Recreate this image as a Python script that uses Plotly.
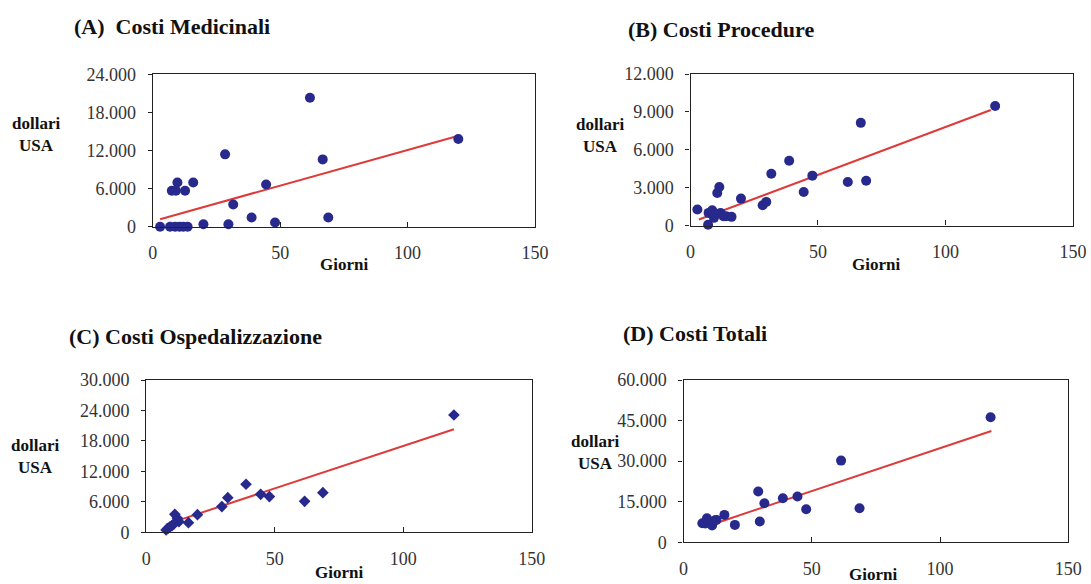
import plotly.graph_objects as go

W, H = 1091, 584

# ---------------- data ----------------
x_ticks = [0, 50, 100, 150]

# (A) Costi Medicinali
giorni_A = [2.9, 6.8, 8.8, 10.5, 12.0, 13.7, 19.9, 29.7, 48.0, 38.8, 68.9, 31.6,
            7.5, 9.1, 12.7, 9.7, 15.9, 44.5, 28.4, 66.7, 61.7, 119.9]
costi_A = [0, 0, 0, 0, 0, 0, 390, 390, 660, 1450, 1450, 3500,
           5650, 5650, 5650, 6970, 6970, 6650, 11390, 10600, 20310, 13800]
trend_A_x = [2.9, 118.6]
trend_A_y = [1180, 14160]
y_ticks_A = [0, 6000, 12000, 18000, 24000]

# (B) Costi Procedure
giorni_B = [2.7, 6.9, 7.1, 8.5, 9.2, 9.8, 10.5, 11.3, 11.8, 12.9, 14.0, 16.1, 19.8,
            28.3, 29.7, 31.7, 38.7, 44.4, 47.8, 61.7, 66.8, 68.9, 119.5]
costi_B = [1262, 53, 1000, 1210, 605, 900, 2580, 3050, 1000, 736, 736, 684, 2130,
           1600, 1870, 4100, 5130, 2660, 3950, 3450, 8130, 3550, 9470]
trend_B_x = [3.3, 117.8]
trend_B_y = [473, 9150]
y_ticks_B = [0, 3000, 6000, 9000, 12000]

# (C) Costi Ospedalizzazione
giorni_C = [7.7, 8.5, 9.3, 10.0, 10.7, 11.1, 12.1, 12.7, 16.4, 19.9, 29.4, 31.7,
            38.8, 44.5, 47.9, 61.6, 68.7, 119.7]
costi_C = [460, 800, 1116, 1300, 1640, 3546, 2758, 2100, 1900, 3480, 5060, 6830,
           9460, 7490, 7030, 6110, 7810, 23110]
trend_C_x = [7.7, 119.7]
trend_C_y = [1570, 20290]
y_ticks_C = [0, 6000, 12000, 18000, 24000, 30000]

# (D) Costi Totali
giorni_D = [7.3, 8.5, 9.1, 9.8, 10.4, 11.1, 12.3, 12.8, 15.9, 20.0, 29.1, 29.7,
            31.5, 38.7, 44.4, 47.8, 61.4, 68.6, 119.7]
costi_D = [7020, 6900, 8870, 7640, 7500, 6160, 8100, 8250, 10100, 6400, 18730, 7640,
           14410, 16260, 16880, 12200, 30180, 12570, 46200]
trend_D_x = [12.0, 120.0]
trend_D_y = [6850, 41150]
y_ticks_D = [0, 15000, 30000, 45000, 60000]

titoli = ["(A)\u00a0 Costi Medicinali", "(B) Costi Procedure",
          "(C) Costi Ospedalizzazione", "(D) Costi Totali"]
y_label = "dollari<br>USA"
x_label = "Giorni"

# ---------------- layout helpers ----------------
FONT = "Liberation Serif, Times New Roman, serif"
MARK = "#28298c"
RED = "#de3a3a"

def px_x(v):
    return v / W

def px_y(v):
    return 1 - v / H

panels = [
    dict(gx=giorni_A, cy=costi_A, tx=trend_A_x, ty=trend_A_y, yt=y_ticks_A,
         box=(152.7, 535.0, 74.3, 226.7), sym="circle", size=10,
         title=(72.0, 26.5), ylab=(35.6, 134), xlab=(343.6, 264)),
    dict(gx=giorni_B, cy=costi_B, tx=trend_B_x, ty=trend_B_y, yt=y_ticks_B,
         box=(690.5, 1072.9, 74.0, 225.5), sym="circle", size=10,
         title=(626.0, 30.0), ylab=(600, 135), xlab=(875.8, 264)),
    dict(gx=giorni_C, cy=costi_C, tx=trend_C_x, ty=trend_C_y, yt=y_ticks_C,
         box=(146.3, 531.8, 380.0, 532.3), sym="diamond", size=9,
         title=(66.5, 336.5), ylab=(35, 456), xlab=(338.9, 572)),
    dict(gx=giorni_D, cy=costi_D, tx=trend_D_x, ty=trend_D_y, yt=y_ticks_D,
         box=(683.6, 1068.3, 380.0, 542.2), sym="circle", size=10,
         title=(621.0, 333.3), ylab=(595, 452.5), xlab=(873.4, 574)),
]

fig = go.Figure()
annotations = []
for i, p in enumerate(panels):
    n = "" if i == 0 else str(i + 1)
    xa, ya = "x" + n, "y" + n
    fig.add_trace(go.Scatter(
        x=p["tx"], y=p["ty"], mode="lines", xaxis=xa, yaxis=ya,
        line=dict(color=RED, width=2), hoverinfo="skip", showlegend=False))
    fig.add_trace(go.Scatter(
        x=p["gx"], y=p["cy"], mode="markers", xaxis=xa, yaxis=ya,
        marker=dict(symbol=p["sym"], size=p["size"], color=MARK,
                    line=dict(width=0)),
        cliponaxis=False, showlegend=False))
    l, r, t, b = p["box"]
    fig.update_layout(**{
        "xaxis" + n: dict(
            domain=[px_x(l), px_x(r)], anchor=ya, range=[0, 150],
            tickvals=x_ticks, ticks="inside", ticklen=5, tickcolor="#222",
            showline=True, mirror=True, linecolor="#222", linewidth=1.3,
            showgrid=False, zeroline=False, ticklabelstandoff=10,
            automargin=False,
            tickfont=dict(family=FONT, size=18, color="#333")),
        "yaxis" + n: dict(
            domain=[px_y(b), px_y(t)], anchor=xa,
            range=[0, p["yt"][-1]], tickvals=p["yt"], tickformat=",",
            ticks="outside", ticklen=4, tickcolor="#222",
            showline=True, mirror=True, linecolor="#222", linewidth=1.3,
            showgrid=False, zeroline=False, ticklabelstandoff=8,
            automargin=False,
            tickfont=dict(family=FONT, size=18, color="#333")),
    })
    tx_, ty_ = p["title"]
    annotations.append(dict(
        text="<b>" + titoli[i] + "</b>", x=px_x(tx_), y=px_y(ty_),
        xref="paper", yref="paper", xanchor="left", yanchor="middle",
        showarrow=False, font=dict(family=FONT, size=22, color="#111")))
    lx, ly = p["ylab"]
    annotations.append(dict(
        text="<b>" + y_label + "</b>", x=px_x(lx), y=px_y(ly),
        xref="paper", yref="paper", xanchor="center", yanchor="middle",
        showarrow=False, font=dict(family=FONT, size=17, color="#111")))
    gx_, gy_ = p["xlab"]
    annotations.append(dict(
        text="<b>" + x_label + "</b>", x=px_x(gx_), y=px_y(gy_),
        xref="paper", yref="paper", xanchor="center", yanchor="middle",
        showarrow=False, font=dict(family=FONT, size=17, color="#111")))

fig.update_layout(
    width=W, height=H, margin=dict(l=0, r=0, t=0, b=0, pad=0, autoexpand=False),
    paper_bgcolor="white", plot_bgcolor="white",
    separators=",.", showlegend=False, annotations=annotations,
)

fig.write_html("out.html",
               config={"displayModeBar": False},
               post_script="document.body.style.margin='0';"
                           "document.body.style.overflow='hidden';")
